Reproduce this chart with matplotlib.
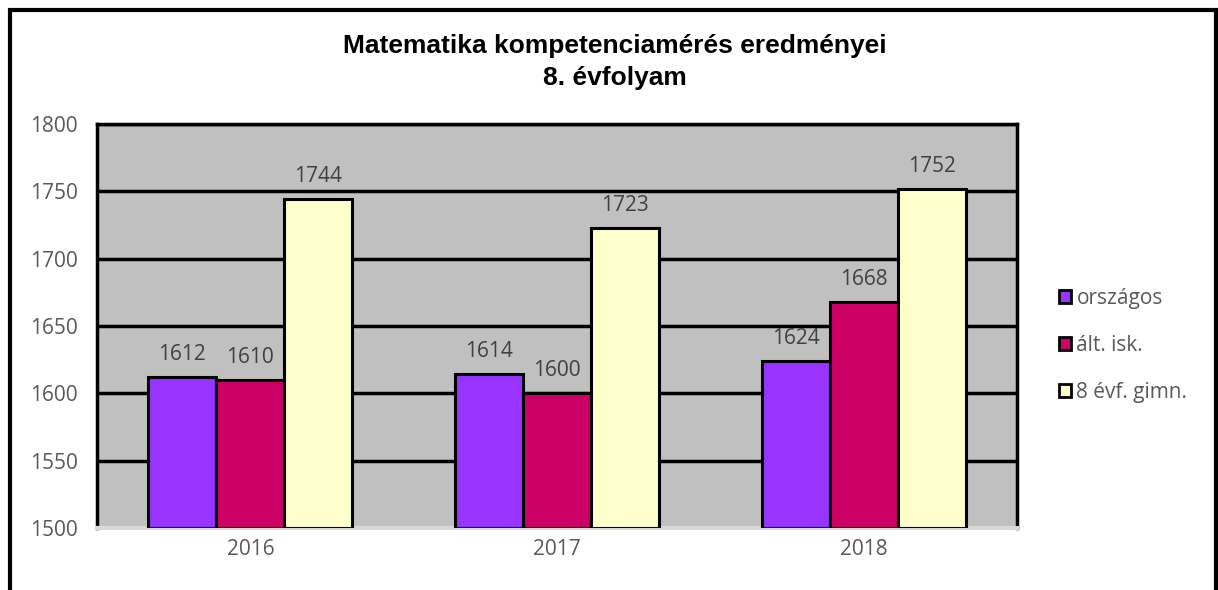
import numpy as np
import matplotlib
matplotlib.use("Agg")
import matplotlib.pyplot as plt
from matplotlib.patches import Rectangle

years = ["2016", "2017", "2018"]
series_names = ["országos", "ált. isk.", "8 évf. gimn."]
orszagos = [1612, 1614, 1624]
alt_isk = [1610, 1600, 1668]
gimn = [1744, 1723, 1752]
colors = ["#9933ff", "#cc0066", "#ffffcc"]

plt.rcParams['font.family'] = ['Open Sans', 'DejaVu Sans']

fig = plt.figure(figsize=(12.18, 5.90), dpi=100)
ax = fig.add_axes([97 / 1218, 1 - 528 / 590, 920 / 1218, 404 / 590])

x = np.arange(len(years))
w = 0.222
for i, (vals, col, name) in enumerate(zip([orszagos, alt_isk, gimn], colors, series_names)):
    ax.bar(x + (i - 1) * w, np.array(vals) - 1500, w, bottom=1500,
           color=col, edgecolor="black", linewidth=2.2, label=name, zorder=3)
    for xi, v in zip(x + (i - 1) * w, vals):
        ax.text(xi, v + 9, str(v), ha="center", va="bottom",
                fontsize=15, color="#404040", zorder=4)

ax.set_xlim(-0.5, 2.5)
ax.set_ylim(1500, 1800)
ax.set_yticks(range(1500, 1801, 50))
ax.set_xticks(x)
ax.set_xticklabels(years)
ax.set_facecolor("#c0c0c0")
ax.grid(axis="y", color="black", linewidth=2.5, zorder=1)
ax.set_axisbelow(True)
ax.tick_params(length=0, labelsize=15, colors="#595959", pad=8)
ax.tick_params(axis="y", pad=14)
for s in ["left", "top", "right"]:
    ax.spines[s].set_linewidth(2.5)
    ax.spines[s].set_color("black")
ax.spines["bottom"].set_color("#d9d9d9")
ax.spines["bottom"].set_linewidth(3)

fig.text(0.505, 1 - 62 / 590, "Matematika kompetenciamérés eredményei\n8. évfolyam",
         ha="center", va="center", fontsize=19, fontweight="bold",
         family=["Liberation Sans"], linespacing=1.38)

leg = ax.legend(loc="center left", bbox_to_anchor=(1.025, 0.452), frameon=False,
                fontsize=15, labelcolor="#595959", handlelength=0.6, handleheight=0.6,
                handletextpad=0.25, labelspacing=1.25)
for h in leg.legend_handles:
    h.set_linewidth(2)

# outer chart border
fig.patches.append(Rectangle((10 / 1218, -0.1), 1206 / 1218, 1.1 - 10 / 590,
                             transform=fig.transFigure, fill=False,
                             edgecolor="black", linewidth=3))

fig.savefig("out.png", dpi=100)
